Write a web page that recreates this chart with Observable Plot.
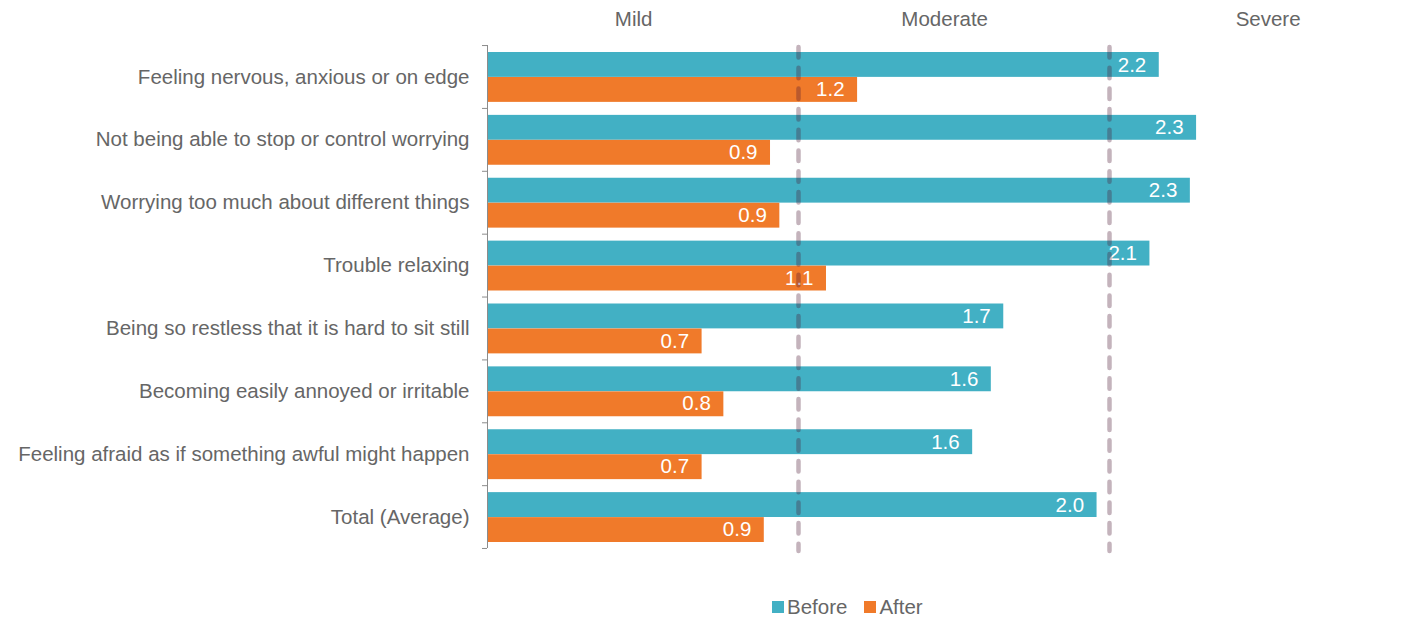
<!DOCTYPE html>
<html><head><meta charset="utf-8">
<script src="https://cdn.jsdelivr.net/npm/d3@7"></script>
<script src="https://cdn.jsdelivr.net/npm/@observablehq/plot@0.6"></script>
<style>
body{margin:0;background:#fff;font-family:"Liberation Sans",Arial,sans-serif}
#legend{margin-left:772px}
.lg-swatches-wrap .lg-swatch{margin-right:17px !important}
.lg-swatch > svg{margin-right:3px !important}
</style></head>
<body><div id="chart"></div><div id="legend"></div>
<script>
const categories = [
  "Feeling nervous, anxious or on edge",
  "Not being able to stop or control worrying",
  "Worrying too much about different things",
  "Trouble relaxing",
  "Being so restless that it is hard to sit still",
  "Becoming easily annoyed or irritable",
  "Feeling afraid as if something awful might happen",
  "Total (Average)"
];
const seriesNames = ["Before", "After"];
const beforeValues = [2.16, 2.28, 2.26, 2.13, 1.66, 1.62, 1.56, 1.96];
const afterValues = [1.19, 0.91, 0.94, 1.09, 0.69, 0.76, 0.69, 0.89];
const severityLabels = ["Mild", "Moderate", "Severe"];
const severityCenters = [0.47, 1.47, 2.51];
const severityCutoffs = [1, 2];
const xDomain = [0, 3];

const teal = "#42b0c4", orange = "#f07a2a", textGray = "#666";
const font = "'Liberation Sans', Arial, sans-serif";
const fs = 20.5;

const rows = categories.flatMap((c, i) => [
  {category: c, series: "Before", value: beforeValues[i]},
  {category: c, series: "After", value: afterValues[i]}
]);
const beforeRows = rows.filter(d => d.series === "Before");
const afterRows = rows.filter(d => d.series === "After");

const chart = Plot.plot({
  width: 1405, height: 590,
  marginTop: 45, marginBottom: 42, marginLeft: 487, marginRight: 0,
  style: {fontFamily: font, fontSize: fs + "px", color: textGray, background: "#fff"},
  x: {domain: xDomain, range: [487, 1420], axis: null},
  y: {domain: categories, padding: 0, round: false, label: null},
  color: {domain: seriesNames, range: [teal, orange]},
  marks: [
    Plot.barX(beforeRows, {x: "value", y: "category", fill: "series", insetTop: 7, insetBottom: 31}),
    Plot.barX(afterRows, {x: "value", y: "category", fill: "series", insetTop: 32, insetBottom: 6}),
    Plot.text(beforeRows, {x: "value", y: "category", text: d => d.value.toFixed(1), textAnchor: "end", dx: -13, dy: -12, fill: "white", fontSize: fs}),
    Plot.text(afterRows, {x: "value", y: "category", text: d => d.value.toFixed(1), textAnchor: "end", dx: -13, dy: 12.5, fill: "white", fontSize: fs}),
    Plot.ruleX(severityCutoffs, {stroke: "#4c1934", strokeOpacity: 0.33, strokeWidth: 4.5, strokeDasharray: "10.5,10.2", strokeLinecap: "round", insetTop: 2, insetBottom: -3}),
    Plot.ruleX([0], {stroke: "#8c8c8c", strokeWidth: 1}),
    Plot.axisY({tickSize: 0, tickPadding: 18, fontSize: fs, color: textGray, label: null}),
    Plot.axisY({text: null, tickSize: 5, dy: -31.4, stroke: "#8c8c8c", label: null}),
    Plot.axisY({ticks: [categories[categories.length - 1]], text: null, tickSize: 5, dy: 31.4, stroke: "#8c8c8c", label: null}),
    Plot.text(severityLabels, {x: (d, i) => severityCenters[i], frameAnchor: "top", lineAnchor: "middle", dy: -26, fontSize: fs, fill: textGray, text: d => d})
  ]
});
document.getElementById("chart").appendChild(chart);

const legend = Plot.legend({
  color: {domain: seriesNames, range: [teal, orange]},
  className: "lg", swatchSize: 12,
  style: {fontSize: fs + "px", color: textGray, fontFamily: font}
});
document.getElementById("legend").appendChild(legend);
</script>
</body></html>
